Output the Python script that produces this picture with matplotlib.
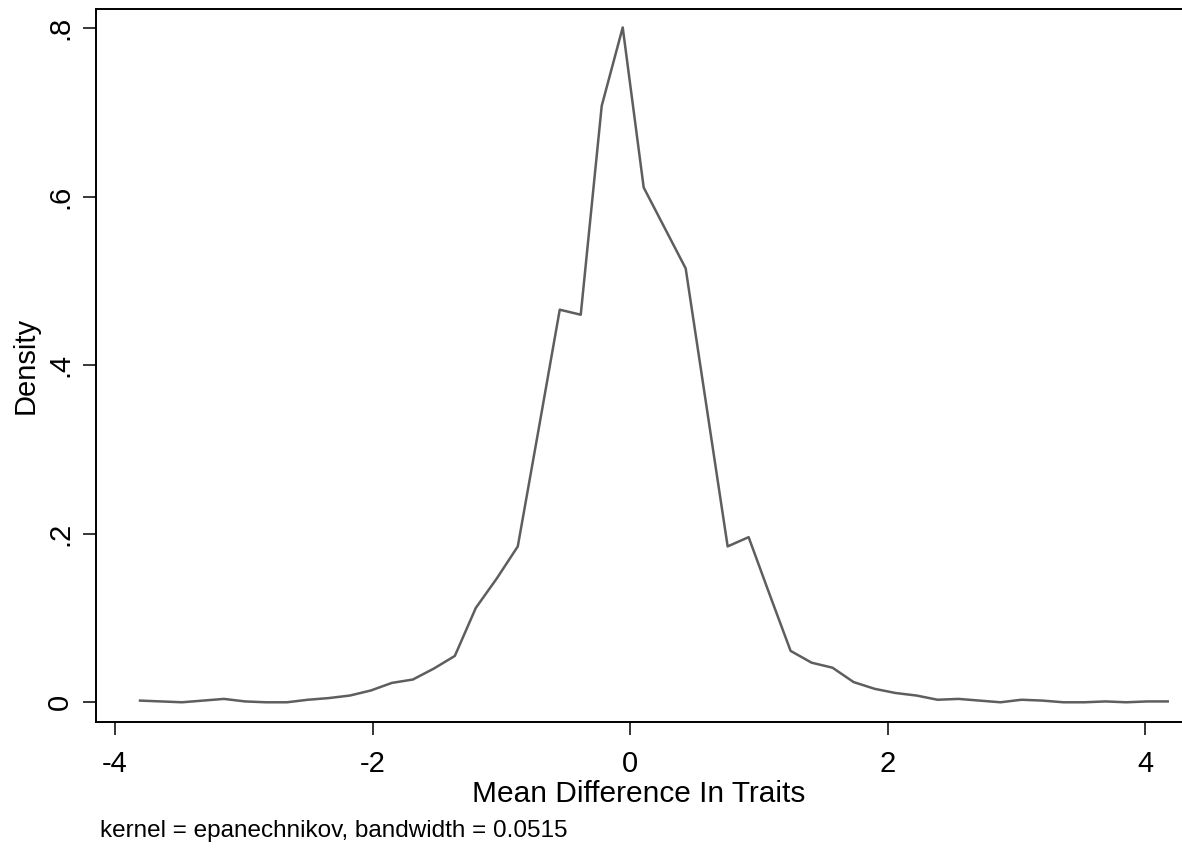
import matplotlib
matplotlib.use("Agg")
import matplotlib.pyplot as plt

plt.rcParams["font.family"] = ["Liberation Sans", "DejaVu Sans"]

# points where the density was evaluated
x_grid = [-3.806, -3.643, -3.480, -3.317, -3.154, -2.991, -2.828, -2.665, -2.502, -2.339,
          -2.176, -2.013, -1.850, -1.687, -1.524, -1.361, -1.198, -1.035, -0.872, -0.709,
          -0.546, -0.383, -0.220, -0.057, 0.106, 0.269, 0.432, 0.595, 0.758, 0.921,
          1.084, 1.247, 1.410, 1.573, 1.736, 1.899, 2.062, 2.225, 2.388, 2.551,
          2.714, 2.877, 3.040, 3.203, 3.366, 3.529, 3.692, 3.855, 4.018, 4.176]
density = [0.002, 0.001, 0.000, 0.002, 0.004, 0.001, 0.000, 0.000, 0.003, 0.005,
           0.008, 0.014, 0.023, 0.027, 0.040, 0.055, 0.112, 0.147, 0.185, 0.325,
           0.466, 0.460, 0.708, 0.801, 0.611, 0.563, 0.515, 0.350, 0.185, 0.196,
           0.128, 0.061, 0.047, 0.041, 0.024, 0.016, 0.011, 0.008, 0.003, 0.004,
           0.002, 0.000, 0.003, 0.002, 0.000, 0.000, 0.001, 0.000, 0.001, 0.001]

x_ticks = [-4, -2, 0, 2, 4]
y_ticks = [0, 0.2, 0.4, 0.6, 0.8]
y_labels = ["0", ".2", ".4", ".6", ".8"]

fig = plt.figure(figsize=(11.82, 8.5), dpi=100)
ax = fig.add_axes([0.081, 0.1506, 0.919, 0.8394])

ax.plot(x_grid, density, color="#5e5e5e", linewidth=1.8)

ax.set_xlim(-4.15, 4.287)
ax.set_ylim(-0.0234, 0.8235)

ax.set_xticks(x_ticks)
ax.set_xticklabels([str(t) for t in x_ticks])
ax.set_yticks(y_ticks)
ax.set_yticklabels(y_labels, rotation=90, va="center")

ax.tick_params(direction="out", length=9.4, width=1.1, labelsize=21, colors="black")
ax.tick_params(axis="x", pad=11)
ax.tick_params(axis="y", pad=6)

ax.spines["right"].set_visible(False)
for s in ["left", "bottom", "top"]:
    ax.spines[s].set_linewidth(1.4)

ax.set_xlabel("Mean Difference In Traits", fontsize=21.5, labelpad=1)
ax.set_ylabel("Density", fontsize=21, labelpad=5)

fig.text(100 / 1182, 1 - 831 / 850, "kernel = epanechnikov, bandwidth = 0.0515",
         fontsize=17.5, va="center", ha="left")

fig.savefig("out.png", dpi=100)
